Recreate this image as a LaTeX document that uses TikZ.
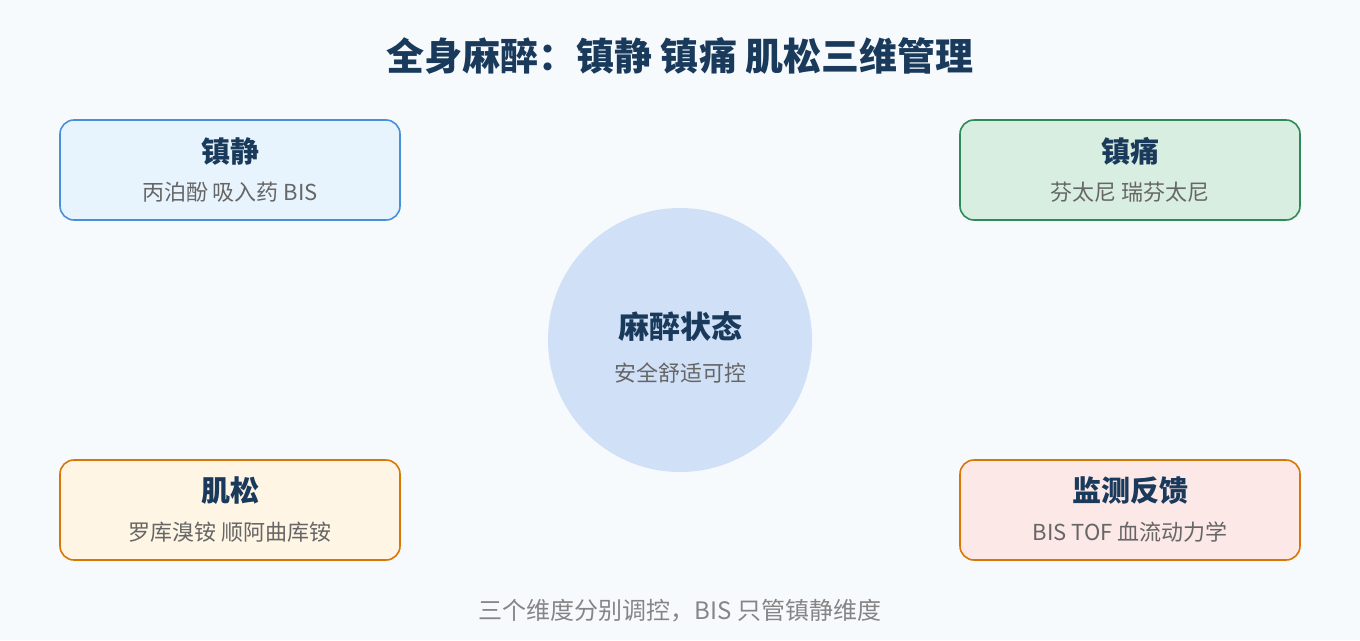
\documentclass[tikz,border=0pt]{standalone}
\usepackage{fontspec}
\setmainfont{Noto Sans CJK SC}
\definecolor{bg}{HTML}{F7FAFD}
\definecolor{ink}{HTML}{1A3A5C}
\definecolor{sub}{HTML}{666666}
\definecolor{blueline}{HTML}{4A90D9}
\definecolor{bluefill}{HTML}{E8F4FD}
\definecolor{greenline}{HTML}{2E8B57}
\definecolor{greenfill}{HTML}{D8EEE0}
\definecolor{orangeline}{HTML}{D97706}
\definecolor{orangefill}{HTML}{FEF5E4}
\definecolor{redfill}{HTML}{FDE8E8}
\definecolor{corefill}{HTML}{CFE0F7}
\begin{document}
\begin{tikzpicture}[x=1pt,y=-1pt,
  card/.style={draw, line width=1.6pt, rounded corners=14pt, minimum width=340pt, minimum height=100pt},
  head/.style={text=ink, font=\fontsize{29}{33}\selectfont\bfseries},
  note/.style={text=sub, font=\fontsize{22}{26}\selectfont}]
\fill[bg] (0,0) rectangle (1360,640);
\useasboundingbox (0,0) rectangle (1360,640);

\node[text=ink, font=\fontsize{38}{44}\selectfont\bfseries] (title) at (680,56) {全身麻醉：镇静 镇痛 肌松三维管理};

\node[card, draw=blueline, fill=bluefill] (sed) at (230,170) {};
\node[card, draw=greenline, fill=greenfill] (ana) at (1130,170) {};
\node[card, draw=orangeline, fill=orangefill] (mus) at (230,510) {};
\node[card, draw=orangeline, fill=redfill] (mon) at (1130,510) {};
\node[circle, fill=corefill, minimum size=264pt, inner sep=0pt] (core) at (680,340) {};

\node[head] (sedhead) at (230,151) {镇静};
\node[note] (sednote) at (230,192) {丙泊酚 吸入药 BIS};
\node[head] (anahead) at (1130,151) {镇痛};
\node[note] (ananote) at (1130,192) {芬太尼 瑞芬太尼};
\node[head] (mushead) at (230,491) {肌松};
\node[note] (musnote) at (230,532) {罗库溴铵 顺阿曲库铵};
\node[head] (monhead) at (1130,491) {监测反馈};
\node[note] (monnote) at (1130,532) {BIS TOF 血流动力学};
\node[head, font=\fontsize{31}{35}\selectfont\bfseries] (corehead) at (680,326) {麻醉状态};
\node[note] (corenote) at (680,373) {安全舒适可控};

\node[text=sub!80, font=\fontsize{24}{28}\selectfont] (foot) at (680,611) {三个维度分别调控，BIS 只管镇静维度};
\end{tikzpicture}
\end{document}
